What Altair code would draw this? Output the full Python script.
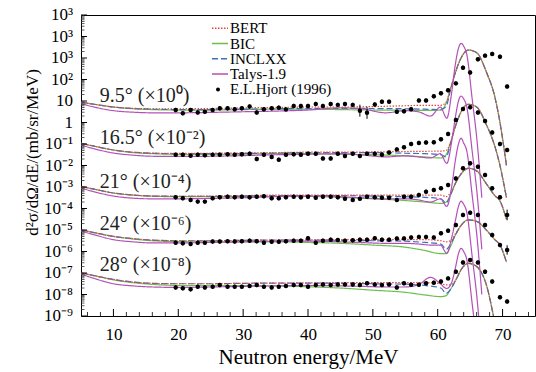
import altair as alt
import pandas as pd

FONT = "Liberation Serif"

# ---------------- values ----------------
# all curve/data values are log10 of d2sigma/dOmega/dE (mb/sr/MeV) BEFORE the per-angle factor
ANGLES = ["9.5°", "16.5°", "21°", "24°", "28°"]
SCALE_EXP = [0, -2, -4, -6, -8]
ANGLE_LABELS = ["9.5° (×10⁰)", "16.5° (×10⁻²)", "21° (×10⁻⁴)", "24° (×10⁻⁶)", "28° (×10⁻⁸)"]
LABEL_E = [7.9, 7.9, 7.9, 7.9, 7.9]
LABEL_LOGY = [1.23, -0.74, -2.77, -4.72, -6.63]

E_MODEL = [5, 7, 10, 13, 16, 20, 25, 30, 35, 40, 45, 50, 55, 58, 60.5, 61.3, 62, 62.7, 63.7, 64.7, 66, 67.5, 68.8, 69.6, 70.6]
E_TALYS = [5, 7, 10, 13, 16, 20, 25, 30, 35, 40, 45, 48, 52, 55, 57, 58.9, 60.4, 61.4, 62.2, 62.7, 63.2, 63.6, 64.0, 64.5, 65.3, 66.1, 66.8]
E_DATA = [19.6, 20.7, 21.9, 23.0, 24.1, 25.3, 26.4, 27.6, 28.7, 29.8, 31.0, 32.1, 33.2, 34.4, 35.5, 36.6,
          37.8, 38.9, 40.0, 41.2, 42.3, 43.5, 44.6, 45.7, 46.9, 48.0, 49.1, 50.3, 51.4, 52.5, 53.7, 54.8,
          55.9, 57.1, 58.2, 59.4, 60.5, 61.6, 62.8, 63.9, 65.0, 66.2, 67.3, 68.4, 69.6, 70.7]

BIC = [
    [0.95, 0.85, 0.72, 0.64, 0.60, 0.58, 0.58, 0.60, 0.62, 0.62, 0.60, 0.58, 0.57, 0.56, 0.58, 0.90, 1.60, 2.30, 3.06, 3.37, 3.25, 2.35, 1.20, 0.00, -2.00],
    [1.03, 0.90, 0.72, 0.60, 0.55, 0.52, 0.52, 0.53, 0.55, 0.55, 0.52, 0.50, 0.45, 0.40, 0.35, 0.50, 1.10, 1.80, 2.55, 2.85, 2.72, 1.90, 0.90, 0.00, -1.50],
    [1.02, 0.90, 0.72, 0.62, 0.57, 0.55, 0.55, 0.56, 0.57, 0.56, 0.52, 0.45, 0.37, 0.30, 0.24, 0.30, 0.65, 1.15, 1.65, 1.87, 1.75, 1.15, 0.60, 0.35, -0.50],
    [1.00, 0.88, 0.70, 0.58, 0.50, 0.46, 0.45, 0.45, 0.45, 0.42, 0.38, 0.30, 0.20, 0.05, -0.10, -0.10, 0.25, 0.75, 1.25, 1.47, 1.40, 1.00, 0.55, 0.30, -0.50],
    [1.00, 0.88, 0.68, 0.55, 0.47, 0.42, 0.41, 0.41, 0.40, 0.36, 0.30, 0.20, 0.10, -0.02, -0.10, -0.05, 0.25, 0.62, 1.20, 1.45, 1.30, 0.45, -1.30, -2.50, -4.50],
]
INCLXX = [
    [0.95, 0.85, 0.72, 0.65, 0.62, 0.60, 0.60, 0.62, 0.64, 0.65, 0.66, 0.65, 0.64, 0.62, 0.60, 0.75, 1.55, 2.30, 3.06, 3.37, 3.25, 2.35, 1.20, 0.00, -2.00],
    [1.03, 0.90, 0.72, 0.62, 0.57, 0.55, 0.55, 0.56, 0.58, 0.60, 0.60, 0.60, 0.57, 0.55, 0.50, 0.40, 1.05, 1.80, 2.55, 2.85, 2.72, 1.90, 0.90, 0.00, -1.50],
    [1.02, 0.90, 0.72, 0.63, 0.58, 0.57, 0.57, 0.58, 0.60, 0.60, 0.60, 0.58, 0.55, 0.52, 0.45, 0.25, 0.65, 1.15, 1.65, 1.87, 1.75, 1.15, 0.60, 0.35, -0.50],
    [1.00, 0.88, 0.70, 0.60, 0.53, 0.50, 0.50, 0.52, 0.53, 0.53, 0.52, 0.50, 0.48, 0.42, 0.35, 0.10, 0.35, 0.75, 1.25, 1.47, 1.40, 1.00, 0.55, 0.30, -0.50],
    [1.00, 0.88, 0.70, 0.58, 0.52, 0.50, 0.50, 0.52, 0.53, 0.53, 0.52, 0.50, 0.48, 0.42, 0.30, 0.05, 0.25, 0.62, 1.20, 1.45, 1.30, 0.45, -1.30, -2.50, -4.50],
]
BERT = [
    [0.95, 0.85, 0.72, 0.66, 0.64, 0.64, 0.65, 0.68, 0.70, 0.72, 0.72, 0.74, 0.78, 0.80, 0.80, 0.95, 1.60, 2.30, 3.06, 3.37, 3.25, 2.35, 1.20, 0.00, -2.00],
    [1.03, 0.90, 0.72, 0.62, 0.58, 0.56, 0.57, 0.58, 0.60, 0.62, 0.62, 0.63, 0.65, 0.66, 0.67, 0.70, 1.10, 1.80, 2.55, 2.85, 2.72, 1.90, 0.90, 0.00, -1.50],
    [1.02, 0.90, 0.72, 0.63, 0.58, 0.57, 0.58, 0.60, 0.62, 0.62, 0.62, 0.62, 0.62, 0.62, 0.62, 0.55, 0.75, 1.15, 1.65, 1.87, 1.75, 1.15, 0.60, 0.35, -0.50],
    [1.00, 0.88, 0.70, 0.60, 0.53, 0.50, 0.50, 0.52, 0.53, 0.54, 0.55, 0.55, 0.55, 0.55, 0.50, 0.45, 0.50, 0.80, 1.25, 1.47, 1.40, 1.00, 0.55, 0.30, -0.50],
    [1.00, 0.88, 0.70, 0.58, 0.52, 0.50, 0.50, 0.52, 0.53, 0.54, 0.55, 0.55, 0.55, 0.55, 0.50, 0.45, 0.45, 0.65, 1.20, 1.45, 1.30, 0.45, -1.30, -2.50, -4.50],
]
TALYS = [
    [0.88, 0.72, 0.55, 0.48, 0.45, 0.45, 0.47, 0.50, 0.53, 0.58, 0.68, 0.65, 0.45, 0.55, 0.50, 0.30, 0.72, 0.20, 1.50, 2.67, 3.45, 3.68, 3.55, 3.14, 1.13, -0.97, -3.50],
    [0.95, 0.78, 0.58, 0.48, 0.43, 0.42, 0.43, 0.46, 0.50, 0.52, 0.55, 0.50, 0.40, 0.45, 0.40, 0.35, 0.55, 0.10, 1.20, 2.20, 3.00, 3.23, 3.10, 2.70, 0.70, -1.40, -3.90],
    [0.95, 0.78, 0.58, 0.48, 0.45, 0.45, 0.47, 0.50, 0.55, 0.58, 0.55, 0.50, 0.45, 0.45, 0.40, 0.30, 0.45, 0.10, 1.10, 2.20, 3.00, 3.27, 3.05, 2.65, 0.65, -1.45, -4.00],
    [0.95, 0.78, 0.55, 0.45, 0.40, 0.40, 0.42, 0.45, 0.48, 0.48, 0.45, 0.42, 0.38, 0.38, 0.35, 0.30, 0.30, -0.08, 0.70, 1.40, 2.10, 2.34, 2.20, 1.80, -0.20, -2.30, -4.80],
    [0.95, 0.75, 0.50, 0.40, 0.35, 0.33, 0.35, 0.38, 0.40, 0.42, 0.40, 0.38, 0.35, 0.35, 0.45, 0.80, 0.50, 0.28, 0.60, 1.20, 1.90, 2.15, 2.00, 1.60, -0.40, -2.50, -5.00],
]
HJORT = [
    [0.58, 0.43, 0.58, 0.47, 0.50, 0.58, 0.66, 0.66, 0.62, 0.66, 0.74, 0.47, 0.62, 0.66, 0.69, 0.61, 0.77, 0.77, 0.77, 0.86, 0.77, 0.86, 0.82,
     0.86, 0.82, 0.55, 0.45, 0.84, 0.97, 0.97, 0.50, 0.52, 0.62, 1.02, 1.02, 1.22, 1.36, 1.50, 1.82, 2.55, 2.33, 2.94, 3.11, 3.19, 3.06, 1.67],
    [0.50, 0.50, 0.45, 0.50, 0.48, 0.50, 0.50, 0.52, 0.50, 0.52, 0.55, 0.30, 0.50, 0.40, 0.27, 0.50, 0.52, 0.50, 0.55, 0.55, 0.33, 0.33, 0.55,
     0.44, 0.55, 0.44, 0.55, 0.55, 0.50, 0.60, 0.75, 0.85, 1.00, 1.05, 1.07, 1.08, 1.22, 1.47, 2.12, 2.63, 2.71, 2.46, 2.07, 1.54, 1.00, 0.72],
    [0.52, 0.48, 0.40, 0.32, 0.32, 0.48, 0.52, 0.55, 0.52, 0.55, 0.52, 0.55, 0.57, 0.48, 0.48, 0.52, 0.55, 0.52, 0.55, 0.50, 0.55, 0.55, 0.52,
     0.45, 0.40, 0.45, 0.55, 0.52, 0.50, 0.50, 0.40, 0.55, 0.55, 0.63, 0.78, 0.86, 0.94, 1.09, 1.40, 1.87, 2.10, 1.94, 1.56, 0.94, 0.52, -0.30],
    [0.41, 0.38, 0.35, 0.41, 0.41, 0.46, 0.46, 0.48, 0.46, 0.48, 0.50, 0.48, 0.41, 0.45, 0.45, 0.48, 0.50, 0.50, 0.62, 0.41, 0.50, 0.55, 0.53,
     0.50, 0.52, 0.55, 0.55, 0.62, 0.55, 0.55, 0.60, 0.61, 0.65, 0.68, 0.68, 0.65, 0.85, 0.97, 1.23, 1.70, 1.80, 1.70, 1.23, 0.77, 0.30, 0.07],
    [0.33, 0.29, 0.24, 0.36, 0.33, 0.36, 0.44, 0.36, 0.36, 0.36, 0.40, 0.44, 0.36, 0.33, 0.36, 0.40, 0.44, 0.44, 0.36, 0.44, 0.47, 0.44, 0.47,
     0.47, 0.47, 0.44, 0.52, 0.47, 0.44, 0.47, 0.33, 0.52, 0.45, 0.45, 0.52, 0.55, 0.60, 0.75, 1.06, 1.49, 1.60, 1.49, 1.06, 0.60, -0.13, -0.33],
]
# half-length of the error bars (in decades)
HJORT_ERR = [
    [0.1] * 25 + [0.28, 0.28] + [0.1] * 19,
    [0.1] * 46,
    [0.1] * 45 + [0.25],
    [0.1] * 45 + [0.22],
    [0.1] * 46,
]

MODELS = ["BERT", "BIC", "INCLXX", "Talys-1.9"]
COLORS = ["#e8453c", "#6cc04a", "#3b6fc2", "#b451b9"]
DASHES = [[1.5, 1.5], [1, 0], [6, 3], [1, 0]]
DATA_NAME = "E.L.Hjort (1996)"

# ---------------- tables ----------------
rows = []
for i, ang in enumerate(ANGLES):
    f = SCALE_EXP[i]
    for model, arr, grid in [("BIC", BIC[i], E_MODEL), ("INCLXX", INCLXX[i], E_MODEL),
                             ("BERT", BERT[i], E_MODEL), ("Talys-1.9", TALYS[i], E_TALYS)]:
        for e, lv in zip(grid, arr):
            rows.append({"angle": ang, "model": model, "E": e, "v": 10 ** (lv + f)})
lines_df = pd.DataFrame(rows)

drows = []
for i, ang in enumerate(ANGLES):
    f = SCALE_EXP[i]
    for e, lv, er in zip(E_DATA, HJORT[i], HJORT_ERR[i]):
        drows.append({"angle": ang, "src": DATA_NAME, "E": e, "v": 10 ** (lv + f),
                      "lo": 10 ** (lv + f - er), "hi": 10 ** (lv + f + er)})
data_df = pd.DataFrame(drows)

ann_df = pd.DataFrame({"label": ANGLE_LABELS, "E": LABEL_E, "v": [10 ** y for y in LABEL_LOGY]})

Y_EXP = list(range(-9, 6))
Y_TEXT = ["10⁻⁹", "10⁻⁸", "10⁻⁷", "10⁻⁶", "10⁻⁵", "10⁻⁴", "10⁻³", "10⁻²", "10⁻¹", "1", "10", "10²", "10³", "10³", "10³"]
Y_MAJOR = [10.0 ** k for k in Y_EXP]
Y_MINOR = [m * 10.0 ** k for k in range(-9, 5) for m in range(2, 10)]
X_MAJOR = [10, 20, 30, 40, 50, 60, 70]
X_MINOR = [x for x in range(6, 76, 2) if x % 10 != 0]
ylab_df = pd.DataFrame({"t": Y_MAJOR, "txt": Y_TEXT})

W, H = 454, 301
xscale = alt.Scale(domain=[5, 75], nice=False, zero=False)
yscale = alt.Scale(type="log", domain=[1e-9, 1e5], nice=False)

x_axis = alt.Axis(values=X_MAJOR, ticks=False, domain=False, grid=False, labelFont=FONT,
                  labelFontSize=17, labelPadding=10, labelColor="black",
                  title="Neutron energy/MeV", titleFont=FONT, titleFontSize=21,
                  titleFontWeight="normal", titleColor="black", titlePadding=4)
y_axis = alt.Axis(values=Y_MAJOR, labels=False, ticks=False, domain=False, grid=False,
                  title="d²σ/dΩ/dE/(mb/sr/MeV)", titleFont=FONT, titleFontSize=17,
                  titleFontWeight="normal", titleColor="black", titleAngle=270,
                  titleX=-49, titleY=137, titleAlign="center", titleBaseline="middle")

lines = alt.Chart(lines_df).mark_line(clip=True, strokeWidth=1.2, interpolate="monotone").encode(
    x=alt.X("E:Q", scale=xscale, axis=x_axis),
    y=alt.Y("v:Q", scale=yscale, axis=y_axis),
    color=alt.Color("model:N", scale=alt.Scale(domain=MODELS, range=COLORS), legend=None),
    strokeDash=alt.StrokeDash("model:N", scale=alt.Scale(domain=MODELS, range=DASHES), legend=None),
    detail="angle:N",
)

errs = alt.Chart(data_df).mark_rule(clip=True, color="black", strokeWidth=1).encode(
    x=alt.X("E:Q", scale=xscale),
    y=alt.Y("lo:Q", scale=yscale),
    y2="hi:Q",
)

pts = alt.Chart(data_df).mark_point(clip=True, filled=True, size=20, opacity=1, color="black").encode(
    x=alt.X("E:Q", scale=xscale),
    y=alt.Y("v:Q", scale=yscale),
)

ann = alt.Chart(ann_df).mark_text(align="left", baseline="middle", font=FONT, fontSize=20,
                                  color="#222222").encode(
    x=alt.X("E:Q", scale=xscale),
    y=alt.Y("v:Q", scale=yscale),
    text="label:N",
)

ylabels = alt.Chart(ylab_df).mark_text(align="right", baseline="middle", font=FONT, fontSize=17,
                                       color="black").encode(
    y=alt.Y("t:Q", scale=yscale), x=alt.value(-8), text="txt:N")

ytm = alt.Chart(pd.DataFrame({"t": Y_MAJOR})).mark_rule(color="black", strokeWidth=1).encode(
    y=alt.Y("t:Q", scale=yscale), x=alt.value(0), x2=alt.value(6))
ytn = alt.Chart(pd.DataFrame({"t": Y_MINOR})).mark_rule(color="#333333", strokeWidth=0.8).encode(
    y=alt.Y("t:Q", scale=yscale), x=alt.value(0), x2=alt.value(3.5))
xtm = alt.Chart(pd.DataFrame({"t": X_MAJOR})).mark_rule(color="black", strokeWidth=1).encode(
    x=alt.X("t:Q", scale=xscale), y=alt.value(H), y2=alt.value(H - 7))
xtn = alt.Chart(pd.DataFrame({"t": X_MINOR})).mark_rule(color="black", strokeWidth=0.8).encode(
    x=alt.X("t:Q", scale=xscale), y=alt.value(H), y2=alt.value(H - 4))

# ---------------- legend (drawn in the top-left of the plot area) ----------------
LEG_X0, LEG_X1, LEG_TX = 131, 147, 149
LEG_ROWS = [13.2, 28.5, 43.8, 59.1, 74.4]
legend_layers = []
for name, col, dash, yy in zip(MODELS, COLORS, DASHES, LEG_ROWS[:4]):
    legend_layers.append(alt.Chart().mark_rule(color=col, strokeDash=dash, strokeWidth=1.5).encode(
        x=alt.value(LEG_X0), x2=alt.value(LEG_X1), y=alt.value(yy)))
    legend_layers.append(alt.Chart().mark_text(align="left", baseline="middle", font=FONT,
                                               fontSize=15, color="black").encode(
        x=alt.value(LEG_TX), y=alt.value(yy), text=alt.value(name)))
legend_layers.append(alt.Chart().mark_point(filled=True, size=16, opacity=1, color="black").encode(
    x=alt.value(137), y=alt.value(LEG_ROWS[4])))
legend_layers.append(alt.Chart().mark_text(align="left", baseline="middle", font=FONT,
                                           fontSize=15, color="black").encode(
    x=alt.value(LEG_TX), y=alt.value(LEG_ROWS[4]), text=alt.value(DATA_NAME)))

chart = alt.layer(lines, errs, pts, ann, ylabels, ytm, ytn, xtm, xtn, *legend_layers).properties(
    width=W, height=H,
    padding={"left": 81, "top": 15, "right": 1, "bottom": 56},
    autosize=alt.AutoSizeParams(type="none"),
    background="white",
).configure_view(stroke="black", strokeWidth=1)

chart.save("out.html", embed_options={"renderer": "svg", "actions": False})
